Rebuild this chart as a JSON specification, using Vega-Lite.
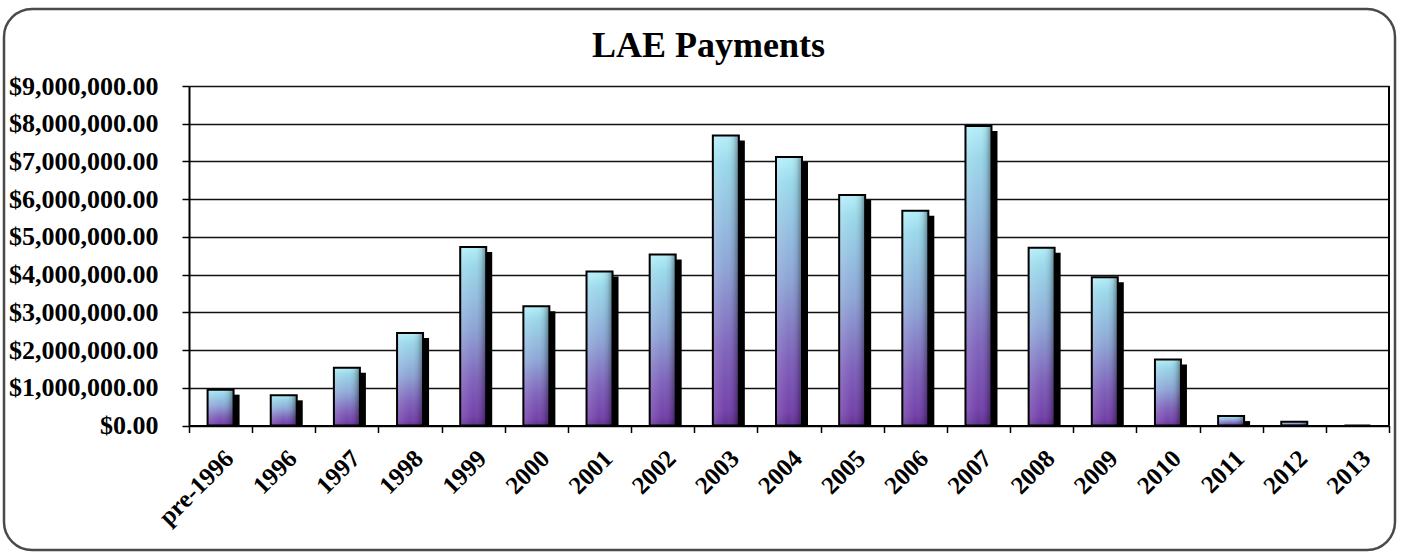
{
  "$schema": "https://vega.github.io/schema/vega-lite/v6.json",
  "width": 1391,
  "height": 541,
  "autosize": {"type": "none"},
  "padding": {"left": 4, "top": 9, "right": 8, "bottom": 3},
  "background": "white",
  "config": {
    "view": {"stroke": "#4a4a4a", "strokeWidth": 2.5, "cornerRadius": 28, "fill": "white"},
    "font": "Liberation Serif"
  },
  "title": {
    "text": "LAE Payments",
    "font": "Liberation Serif",
    "fontSize": 36,
    "fontWeight": "bold",
    "color": "black",
    "anchor": "middle",
    "frame": "group",
    "offset": -56,
    "dx": 9
  },
  "data": {
    "values": [
      {"year": "pre-1996", "amount": 950000},
      {"year": "1996", "amount": 800000},
      {"year": "1997", "amount": 1530000},
      {"year": "1998", "amount": 2450000},
      {"year": "1999", "amount": 4730000},
      {"year": "2000", "amount": 3160000},
      {"year": "2001", "amount": 4080000},
      {"year": "2002", "amount": 4530000},
      {"year": "2003", "amount": 7690000},
      {"year": "2004", "amount": 7120000},
      {"year": "2005", "amount": 6110000},
      {"year": "2006", "amount": 5690000},
      {"year": "2007", "amount": 7940000},
      {"year": "2008", "amount": 4710000},
      {"year": "2009", "amount": 3930000},
      {"year": "2010", "amount": 1750000},
      {"year": "2011", "amount": 250000},
      {"year": "2012", "amount": 100000},
      {"year": "2013", "amount": 0}
    ]
  },
  "encoding": {
    "x": {
      "field": "year",
      "type": "nominal",
      "sort": null,
      "scale": {"range": [185, 1385], "paddingInner": 0, "paddingOuter": 0},
      "axis": {
        "title": null,
        "labelAngle": -45,
        "labelFont": "Liberation Serif",
        "labelFontWeight": "bold",
        "labelFontSize": 25,
        "labelColor": "black",
        "labelPadding": 13,
        "labelOverlap": false,
        "tickBand": "extent",
        "tickSize": 7,
        "tickColor": "black",
        "tickWidth": 1.5,
        "domainColor": "black",
        "domainWidth": 2,
        "grid": false,
        "offset": -124.5,
        "zindex": 1
      }
    }
  },
  "layer": [
    {
      "transform": [{"filter": "datum.amount > 150000"}],
      "mark": {"type": "bar", "width": 26, "fill": "black", "xOffset": 6, "yOffset": 5},
      "encoding": {
        "y": {
          "field": "amount",
          "type": "quantitative",
          "stack": null,
          "scale": {"domain": [0, 9000000], "range": [416.5, 77], "nice": false, "zero": true},
          "axis": {
            "title": null,
            "values": [0, 1000000, 2000000, 3000000, 4000000, 5000000, 6000000, 7000000, 8000000, 9000000],
            "format": "$,.2f",
            "labelFont": "Liberation Serif",
            "labelFontWeight": "bold",
            "labelFontSize": 26,
            "labelColor": "black",
            "labelPadding": 24,
            "tickSize": 7,
            "tickColor": "black",
            "tickWidth": 1.5,
            "domainColor": "black",
            "domainWidth": 2,
            "grid": true,
            "gridColor": "#111111",
            "gridWidth": 1.5,
            "offset": -185
          }
        }
      }
    },
    {
      "mark": {
        "type": "bar",
        "width": 26,
        "fill": {
          "gradient": "linear", "x1": 0, "y1": 0, "x2": 0, "y2": 1,
          "stops": [
            {"offset": 0, "color": "#b4eef9"},
            {"offset": 0.1, "color": "#9bd9eb"},
            {"offset": 0.45, "color": "#8ea6d6"},
            {"offset": 0.75, "color": "#7f62ba"},
            {"offset": 0.95, "color": "#7441aa"},
            {"offset": 1, "color": "#5e3290"}
          ]
        }
      },
      "encoding": {"y": {"field": "amount", "type": "quantitative", "stack": null}}
    },
    {
      "mark": {
        "type": "bar",
        "width": 26,
        "stroke": "black",
        "strokeWidth": 2,
        "fill": {
          "gradient": "linear", "x1": 0, "y1": 0, "x2": 1, "y2": 0,
          "stops": [
            {"offset": 0, "color": "rgba(255,255,255,0.15)"},
            {"offset": 0.5, "color": "rgba(255,255,255,0)"},
            {"offset": 0.8, "color": "rgba(0,0,0,0.1)"},
            {"offset": 1, "color": "rgba(0,0,0,0.4)"}
          ]
        }
      },
      "encoding": {"y": {"field": "amount", "type": "quantitative", "stack": null}}
    },
    {
      "data": {"values": [{}]},
      "mark": {"type": "rule", "color": "black", "strokeWidth": 2},
      "encoding": {
        "x": {"datum": "2013", "type": "nominal", "bandPosition": 1},
        "y": {"datum": 0, "type": "quantitative"},
        "y2": {"datum": 9000000}
      }
    }
  ]
}
